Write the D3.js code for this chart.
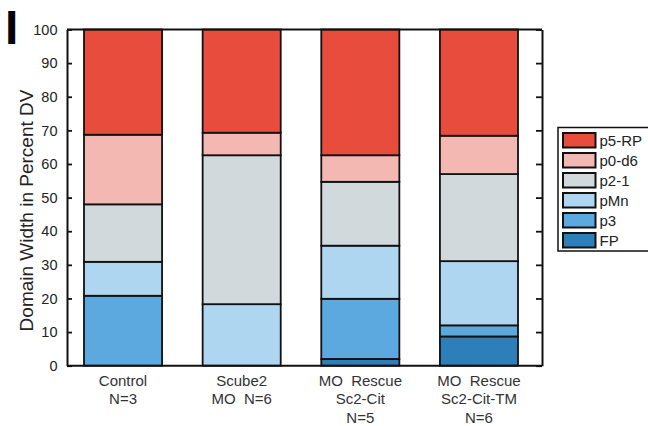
<!DOCTYPE html>
<html>
<head>
<meta charset="utf-8">
<script src="https://cdn.jsdelivr.net/npm/d3@7"></script>
<style>
  html, body { margin: 0; padding: 0; background: #fff; }
  svg { display: block; font-family: "Liberation Sans", Arial, Helvetica, sans-serif; }
</style>
</head>
<body>
<svg id="chart" width="648" height="426"></svg>
<script>
// ---- data ----
const categories = [
  ["Control", "N=3"],
  ["Scube2", "MO  N=6"],
  ["MO  Rescue", "Sc2-Cit", "N=5"],
  ["MO  Rescue", "Sc2-Cit-TM", "N=6"]
];
// stacking order bottom -> top
const domains = ["FP", "p3", "pMn", "p2-1", "p0-d6", "p5-RP"];
const FP     = [0.0, 0.0, 2.0, 8.7];
const p3     = [20.8, 0.0, 17.9, 3.3];
const pMn    = [10.1, 18.3, 15.8, 19.1];
const p2_1   = [17.1, 44.3, 19.0, 25.9];
const p0_d6  = [20.7, 6.7, 7.9, 11.4];
const p5_RP  = [31.3, 30.7, 37.4, 31.6];
const yTicks = [0, 10, 20, 30, 40, 50, 60, 70, 80, 90, 100];
const colors = ["#2E7EB9", "#5CA9E0", "#AED6F0", "#D1D9DC", "#F4B8B3", "#E74C3D"];

const series = [FP, p3, pMn, p2_1, p0_d6, p5_RP];
const table = categories.map((c, i) => {
  const row = { key: i };
  domains.forEach((d, j) => row[d] = series[j][i]);
  return row;
});

const svg = d3.select("#chart");
const frame = { left: 67, right: 542, top: 29.5, bottom: 365.7 };

const y = d3.scaleLinear().domain([0, 100]).range([frame.bottom, frame.top]);
const x = d3.scaleBand().domain(d3.range(categories.length))
  .range([84, 518]).paddingInner(0.342).paddingOuter(0);
const color = d3.scaleOrdinal().domain(domains).range(colors);

const stacked = d3.stack().keys(domains)(table);

// bars
svg.append("g").selectAll("g").data(stacked).join("g")
  .attr("fill", d => color(d.key))
  .selectAll("rect").data(d => d).join("rect")
  .attr("x", (d, i) => x(i))
  .attr("width", x.bandwidth())
  .attr("y", d => y(d[1]))
  .attr("height", d => Math.max(0, y(d[0]) - y(d[1])))
  .attr("stroke", "#111")
  .attr("stroke-width", 1.8)
  .attr("display", d => (d[1] - d[0]) > 0 ? null : "none");

// frame lines
svg.append("line").attr("x1", frame.left).attr("x2", frame.right)
  .attr("y1", frame.top).attr("y2", frame.top)
  .attr("stroke", "#111").attr("stroke-width", 2);
svg.append("line").attr("x1", frame.left).attr("x2", frame.right)
  .attr("y1", frame.bottom).attr("y2", frame.bottom)
  .attr("stroke", "#111").attr("stroke-width", 2);

// left axis
const yAxisL = svg.append("g").attr("transform", `translate(${frame.left},0)`)
  .call(d3.axisLeft(y).tickValues(yTicks).tickSize(-5).tickSizeOuter(0).tickPadding(9.5));
yAxisL.select(".domain").attr("stroke", "#111").attr("stroke-width", 2);
yAxisL.selectAll(".tick line").attr("stroke", "#111").attr("stroke-width", 1.8);
yAxisL.selectAll(".tick text").attr("font-size", "14.5px").attr("fill", "#222")
  .attr("font-family", "'Liberation Sans', Arial, sans-serif");

// right axis
const yAxisR = svg.append("g").attr("transform", `translate(${frame.right},0)`)
  .call(d3.axisRight(y).tickValues(yTicks).tickSize(-6).tickSizeOuter(0).tickFormat(""));
yAxisR.select(".domain").attr("stroke", "#111").attr("stroke-width", 2);
yAxisR.selectAll(".tick line").attr("stroke", "#111").attr("stroke-width", 1.8);

// x labels
const xl = svg.append("g");
categories.forEach((lines, i) => {
  const t = xl.append("text")
    .attr("x", x(i) + x.bandwidth() / 2)
    .attr("y", 385.5)
    .attr("text-anchor", "middle")
    .attr("font-size", "15px")
    .attr("fill", "#333")
    .attr("xml:space", "preserve");
  lines.forEach((ln, k) => {
    t.append("tspan").attr("x", x(i) + x.bandwidth() / 2)
      .attr("dy", k === 0 ? 0 : 18.7).text(ln);
  });
});

// y title
svg.append("text")
  .attr("transform", `translate(32.5,210.5) rotate(-90)`)
  .attr("text-anchor", "middle")
  .attr("font-size", "19px")
  .attr("fill", "#222")
  .text("Domain Width in Percent DV");

// panel label
svg.append("text")
  .attr("x", 5).attr("y", 44)
  .attr("font-size", "48px").attr("font-weight", "bold")
  .attr("fill", "#000")
  .text("I");

// legend
const lg = svg.append("g");
lg.append("rect").attr("x", 558).attr("y", 127.5).attr("width", 100).attr("height", 123.5)
  .attr("fill", "#fff").attr("stroke", "#111").attr("stroke-width", 1.5);
const legendOrder = domains.slice().reverse();
legendOrder.forEach((d, i) => {
  const gy = 133 + i * 20;
  lg.append("rect").attr("x", 563).attr("y", gy).attr("width", 32.5).attr("height", 14.5)
    .attr("fill", color(d)).attr("stroke", "#111").attr("stroke-width", 2);
  lg.append("text").attr("x", 599.5).attr("y", gy + 12.5)
    .attr("font-size", "15px").attr("fill", "#222").text(d);
});
</script>
</body>
</html>
